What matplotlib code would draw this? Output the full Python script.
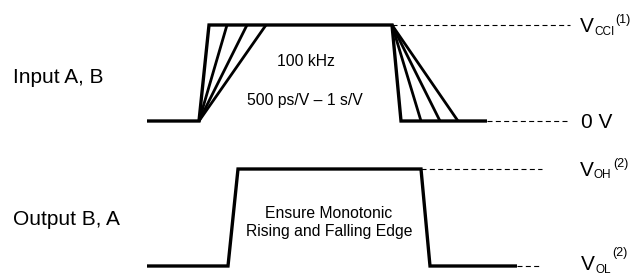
import matplotlib.pyplot as plt

plt.rcParams['font.family'] = ['Liberation Sans', 'DejaVu Sans']

# waveform geometry, x in image pixels, y in image rows
in_low, in_high = 121, 25
in_start, in_end, in_dash_end = 147, 487, 570
in_rise_start = 199
in_rise_ends = [209, 227, 247, 266]
in_fall_start = 392
in_fall_ends = [401, 421, 440, 458]

out_low, out_high = 266, 169
out_start, out_end, out_dash_end = 147, 517, 542
out_rise = [228, 238]
out_fall = [421, 430]

fig = plt.figure(figsize=(6.42, 2.74), dpi=100)
ax = fig.add_axes([0, 0, 1, 1])
ax.set_xlim(0, 642)
ax.set_ylim(274, 0)
ax.axis('off')

lw_main = 2.4
lw_fan = 2.0
kw = dict(color='k', solid_joinstyle='miter', solid_capstyle='butt')

# input trace
ax.plot([in_start, in_rise_start, in_rise_ends[0], in_fall_start, in_fall_ends[0], in_end],
        [in_low, in_low, in_high, in_high, in_low, in_low], lw=lw_main, **kw)
for x in in_rise_ends[1:]:
    ax.plot([in_rise_start, x], [in_low, in_high], lw=lw_fan, **kw)
for x in in_fall_ends[1:]:
    ax.plot([in_fall_start, x], [in_high, in_low], lw=lw_fan, **kw)

# output trace
ax.plot([out_start, out_rise[0], out_rise[1], out_fall[0], out_fall[1], out_end],
        [out_low, out_low, out_high, out_high, out_low, out_low], lw=lw_main, **kw)

# dashed reference levels
dkw = dict(color='k', lw=0.8, dashes=(4.5, 3))
ax.plot([in_fall_start, in_dash_end], [in_high, in_high], **dkw)
ax.plot([in_end, in_dash_end], [in_low, in_low], **dkw)
ax.plot([out_fall[0], out_dash_end], [out_high, out_high], **dkw)
ax.plot([out_end, out_dash_end], [out_low, out_low], **dkw)

big = 15
mid = 11.3
small = 8.5

ax.text(13, 83, 'Input A, B', fontsize=big, va='baseline')
ax.text(13, 225, 'Output B, A', fontsize=big, va='baseline')

ax.text(306, 66, '100 kHz', fontsize=mid, ha='center', va='baseline')
ax.text(305, 105, '500 ps/V \u2013 1 s/V', fontsize=mid, ha='center', va='baseline')
ax.text(329, 218, 'Ensure Monotonic', fontsize=mid, ha='center', va='baseline')
ax.text(329, 236, 'Rising and Falling Edge', fontsize=mid, ha='center', va='baseline')


def vlabel(x, y, sub, sup, y_sub, y_sup):
    ax.text(x, y, 'V', fontsize=big, va='baseline')
    t = ax.text(x + 14, y_sub, sub, fontsize=small, va='baseline')
    fig.canvas.draw()
    bb = t.get_window_extent().transformed(ax.transData.inverted())
    ax.text(bb.x1 + 1.5, y_sup, sup, fontsize=9, va='baseline')


vlabel(580, 32.3, 'CCI', '(1)', 35, 22.8)
ax.text(581, 128, '0 V', fontsize=big, va='baseline')
vlabel(580, 176, 'OH', '(2)', 178.5, 166.8)
vlabel(581, 270.5, 'OL', '(2)', 273, 256)

fig.savefig('out.png', dpi=100)
